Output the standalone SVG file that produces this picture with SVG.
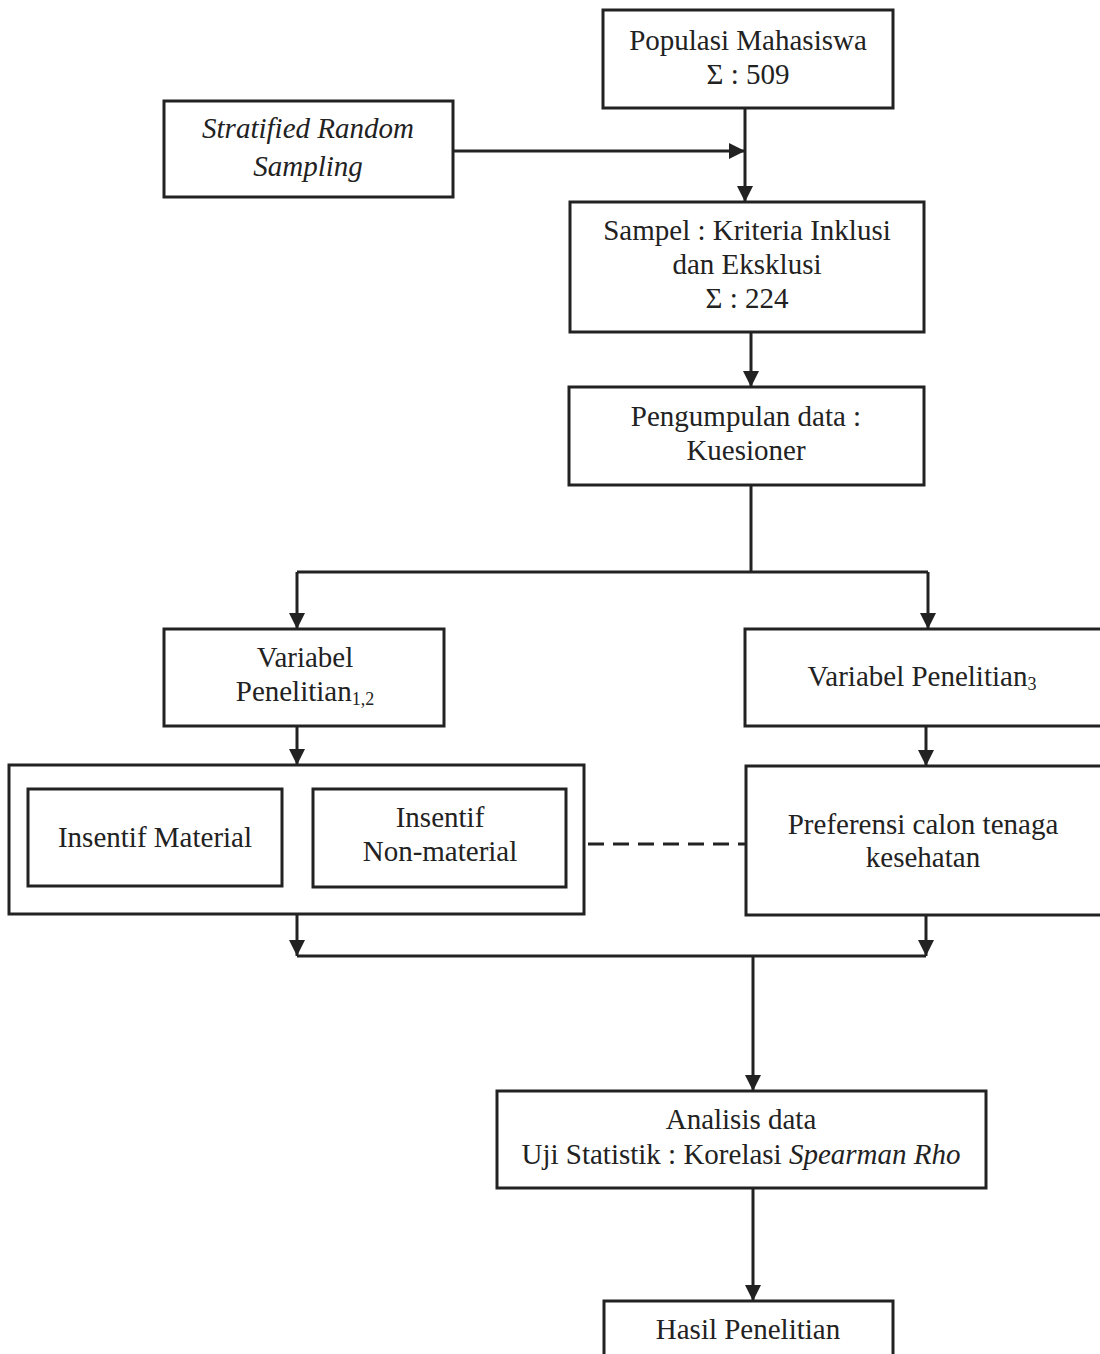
<svg xmlns="http://www.w3.org/2000/svg" width="1100" height="1354" viewBox="0 0 1100 1354">
<defs>
<marker id="ah" markerUnits="userSpaceOnUse" markerWidth="16" markerHeight="20" viewBox="0 0 16 20" refX="16" refY="10" orient="auto">
<path d="M0,2 L16,10 L0,18 Z" fill="#222"/>
</marker>
</defs>
<style>
.b{fill:#fff;stroke:#222;stroke-width:3}
text{font-family:"Liberation Serif","Times New Roman",serif;font-size:29px;fill:#222;text-anchor:middle}
.i{font-style:italic}
.c{fill:none;stroke:#222;stroke-width:3}
.a{marker-end:url(#ah)}
.d{stroke-dasharray:16 9}
</style>
<rect width="1100" height="1354" fill="#fff"/>
<g id="connectors">
<line class="c a" x1="453" y1="151" x2="745" y2="151"/>
<line class="c a" x1="745" y1="108" x2="745" y2="202"/>
<line class="c a" x1="751" y1="332" x2="751" y2="387"/>
<polyline class="c" points="751,485 751,572"/>
<polyline class="c" points="297,572 928,572"/>
<line class="c a" x1="297" y1="572" x2="297" y2="629"/>
<line class="c a" x1="928" y1="572" x2="928" y2="629"/>
<line class="c a" x1="297" y1="726" x2="297" y2="765"/>
<line class="c a" x1="926" y1="726" x2="926" y2="766"/>
<line class="c d" x1="588" y1="844" x2="746" y2="844"/>
<line class="c a" x1="297" y1="914" x2="297" y2="956"/>
<line class="c a" x1="926" y1="915" x2="926" y2="956"/>
<polyline class="c" points="297,956 926,956"/>
<line class="c a" x1="753" y1="956" x2="753" y2="1091"/>
<line class="c a" x1="753" y1="1188" x2="753" y2="1301"/>
</g>
<g id="populasi">
<rect class="b" x="603" y="10" width="290" height="98"/>
<text x="748" y="50">Populasi Mahasiswa</text>
<text x="748" y="84">Σ : 509</text>
</g>
<g id="stratified">
<rect class="b" x="164" y="101" width="289" height="96"/>
<text class="i" x="308" y="138">Stratified Random</text>
<text class="i" x="308" y="176">Sampling</text>
</g>
<g id="sampel">
<rect class="b" x="570" y="202" width="354" height="130"/>
<text x="747" y="240">Sampel : Kriteria Inklusi</text>
<text x="747" y="274">dan Eksklusi</text>
<text x="747" y="308">Σ : 224</text>
</g>
<g id="pengumpulan">
<rect class="b" x="569" y="387" width="355" height="98"/>
<text x="746" y="426">Pengumpulan data :</text>
<text x="746" y="460">Kuesioner</text>
</g>
<g id="variabel12">
<rect class="b" x="164" y="629" width="280" height="97"/>
<text x="305" y="667">Variabel</text>
<text x="305" y="701">Penelitian<tspan font-size="18" dy="4">1,2</tspan></text>
</g>
<g id="variabel3">
<rect class="b" x="745" y="629" width="360" height="97"/>
<text x="922" y="686">Variabel Penelitian<tspan font-size="18" dy="4">3</tspan></text>
</g>
<g id="insentif-group">
<rect class="b" x="9" y="765" width="575" height="149"/>
</g>
<g id="insentif-material">
<rect class="b" x="28" y="789" width="254" height="97"/>
<text x="155" y="847">Insentif Material</text>
</g>
<g id="insentif-nonmaterial">
<rect class="b" x="313" y="789" width="253" height="98"/>
<text x="440" y="827">Insentif</text>
<text x="440" y="861">Non-material</text>
</g>
<g id="preferensi">
<rect class="b" x="746" y="766" width="360" height="149"/>
<text x="923" y="834">Preferensi calon tenaga</text>
<text x="923" y="867">kesehatan</text>
</g>
<g id="analisis">
<rect class="b" x="497" y="1091" width="489" height="97"/>
<text x="741" y="1129">Analisis data</text>
<text x="741" y="1164">Uji Statistik : Korelasi <tspan class="i">Spearman Rho</tspan></text>
</g>
<g id="hasil">
<rect class="b" x="604" y="1301" width="289" height="80"/>
<text x="748" y="1339">Hasil Penelitian</text>
</g>
</svg>
